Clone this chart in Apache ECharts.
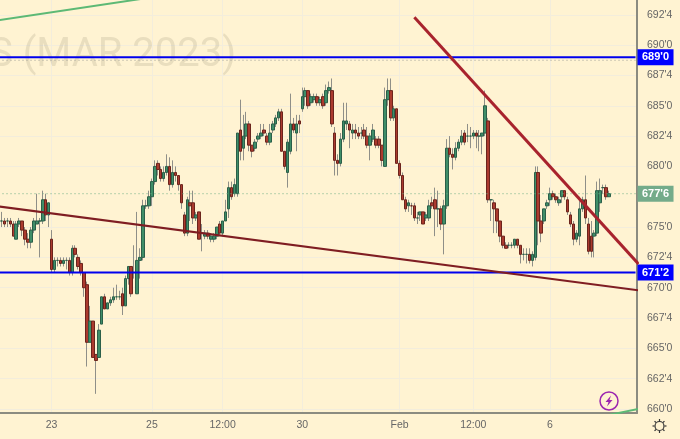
<!DOCTYPE html>
<html>
<head>
<meta charset="utf-8">
<style>html,body{margin:0;padding:0;background:#fff3d2}#c{width:680px;height:439px}</style>
<script src="https://cdn.jsdelivr.net/npm/echarts@6/dist/echarts.min.js"></script>
</head>
<body>
<div id="c"></div>
<script>
const opens = [675.5,675.5,675.5,675.5,675.25,674,675.25,675.5,674.75,674,
673.75,674.75,675.25,675.5,675.5,677.25,676,674,671.5,672.25,
672.25,672,672.25,672.25,671.25,673.25,672.5,672,671.25,670.25,
665.5,667.25,664.5,664.25,667,669.25,668.25,668.75,669,669.25,
669.25,669.5,668.5,670.75,671.75,671.25,669.5,672.25,672.5,676.75,
676.75,677.5,678.75,680.25,679.75,679,679.5,680,678.5,679.5,
679.25,678.5,676,674.5,677,677,675.75,676.25,674.5,674.25,
674.5,674,674,674.25,675.25,674.5,675.5,676.5,678.25,677.75,
677.75,683,681.5,682.5,683.5,681.75,681.5,682.25,682.5,683,
682.5,682,683,683.5,684,684.5,681.25,679.5,681.25,683.5,
682.75,683.75,684.75,685.75,686.25,685.25,685.5,685.75,685.25,685.75,
685.25,686.25,686.25,682.75,680.5,680.25,682.25,683.5,683.5,682.75,
683,682.75,682.75,683,682.5,681.75,682.25,682.25,682.25,681.75,
680,685.5,686.25,684,684.75,680.25,679.25,677.25,676.75,676.75,
676.75,675.75,676,676.25,675.75,675.75,677,677.25,676.5,676.5,
675.25,676.75,681.5,681,680.75,681.5,682,682.75,682.5,682.5,
682.5,682.75,682.5,682.5,682.75,683.75,677.25,677,676.5,675.5,
674.25,673.5,673.5,673.5,673.5,674,673.5,672.75,672.75,672.75,
672.25,672.5,679.5,675.5,675.5,676.75,677.25,677.75,677.5,677,
677.5,678,677.25,676,675.25,674,674.25,676.5,677.25,675.25,
674.25,674.25,674.5,677,678.25,678.25,677.5];
const highs = [676.25,675.75,675.75,675.75,675.5,675.5,675.75,675.5,675,674.5,
675,675.75,677.75,675.75,678,677.75,677,674.75,672.5,672.5,
672.5,672.5,672.5,672.5,673.5,673.5,672.75,672.25,671.25,670.5,
668.5,667.25,664.5,667,669.25,669.5,668.75,669.25,670,670.25,
669.75,670,671,671.75,671.75,673.5,676.25,673.25,677.25,677.25,
678,679,680.5,680.5,680,680,681,680.75,680.5,680,
679.25,678.5,676.25,677.5,678,678,676.25,676.25,675.25,674.75,
674.75,674.5,674.5,675,675.5,675.5,677.25,678.75,678.75,679,
682.75,685.5,684.25,684.5,683.75,681.75,682.25,682.75,683.5,683.5,
682.75,683.5,683.75,684.25,684.75,684.75,681.25,682.25,686,684,
684.25,684.25,686.5,686.5,686.25,686,686,686,685.75,686,
686.75,687,687.25,683.25,681,682.75,685.25,685.25,683.75,683.5,
683.5,683.25,683.25,683.5,683.25,682.75,683.5,682.5,682.5,681.75,
686.5,687.25,687.25,685,684.75,680.5,679.5,677.5,677.25,677,
677,676.25,676.25,676.25,676.25,677.25,677.5,678.25,678,676.75,
677.25,682.25,682.5,681.5,682,682.25,683,683,683.5,683.25,
683,683,683,682.75,686.25,684,677.25,677.25,676.5,675.5,
674.25,673.75,673.75,673.75,674,674,673.5,673.25,673.25,673.25,
673,680,680,676,676.5,677.25,678.25,678,677.75,677.5,
678,678,677.5,676.25,675.5,674.75,677.5,677.5,679.25,675.75,
675.5,674.75,678.75,679,678.5,678.5,678];
const lows = [675,675,675,675,674.25,674,675,674.25,673.5,673.25,
673.25,674.5,675.25,672.5,675.25,675.5,675,671.25,671.25,671.75,
671.75,671.75,671.5,671,671,672.5,671.5,671,669.25,663.5,
665.5,664.25,661.25,664.25,667,668.25,668.25,668.5,668.75,669,
669,667.75,668.5,670.25,669.25,670.75,669.5,670.75,672.25,676.5,
676.5,676.75,678.5,679.25,678.75,678.75,679.25,678,678.25,678.75,
678,676.5,674.25,674.25,675.5,675.25,675.5,674,673,674,
674,673.75,673.75,674,674.25,674.25,675.5,675.75,677.25,677.5,
677.5,680.5,680.5,682.25,681.25,680.75,681.25,682,682.25,682.5,
681.75,681.75,682.75,683.25,683.75,681.25,679.75,678.25,681,682.75,
681.25,682.75,684.5,685,684.75,685,685.25,685,685,684.75,
685,686,683.25,679.25,679.25,680,682,683,681.5,682.25,
682.25,682.25,682.25,682.25,681.5,680.5,682,681.5,681.5,680,
680,685,683.75,683.75,680.25,679,677.25,676.25,676.25,676,
675.5,675.25,675.5,675.25,675.5,675.5,676.5,674.25,675,674.75,
672.75,676.5,680.75,679.75,680.5,681.25,681.75,681.75,682,681.5,
682.25,681.5,681.25,681,682.5,677,675.5,674.5,674.5,673.75,
673.25,673.25,673.25,673.25,673.25,673.25,672,672.25,672,672,
671.75,672.25,673.5,673.75,675.25,676.5,676.75,677.25,677,676.75,
677,677.25,676,675,673.5,673.75,673.5,676.25,675.25,672.75,
672.5,672.5,674.25,676.25,677.75,677.25,677.5];
const closes = [675.5,675.25,675.5,675.25,674.25,675.25,675.5,674.75,674,673.75,
674.75,675.5,675.5,675.5,677.25,676,677,671.5,672.25,672.25,
672,672.25,672.25,671.25,673.25,672.75,671.75,671.25,670,665.5,
667.25,664.25,664,666.5,669.25,668.25,668.75,669,669.25,669.25,
669.25,668.5,670.75,671.75,669.5,671.25,672.25,672.5,676.75,676.75,
677.5,678.75,680,679.75,679,679.5,680,678.5,679.5,679.25,
678.5,677,674.5,677.25,676.75,675.75,676,674,674.5,674.5,
674.25,674.25,674.25,675,674.5,675.5,676.25,678.25,677.5,678.5,
682.75,681.25,682.5,683.5,681.75,681.25,682,682.5,682.75,682.75,
682,682.75,683.5,684,684.5,681.25,680,682,683.5,683,
683.5,683.5,685.75,686.25,685,685.75,685.75,685.25,685.5,685,
686.25,686.5,683.5,680.5,680.25,682.25,683.75,683.75,683,683,
682.75,682.5,682.75,682.5,681.75,682.5,683,681.75,681.75,680.5,
685.5,686.25,684,684.75,680.25,679.25,677.25,676.5,677,676.75,
675.75,675.75,676.25,675.25,676,676.75,676.75,676.5,676.5,675.25,
676.75,681.5,681,680.75,681.5,682,682.5,682,682.5,682.5,
682.75,682.5,682.5,682.75,685,677.25,677.25,676.5,675.5,674.25,
673.5,673.25,673.5,673.5,674,673.5,672.75,672.75,672.75,672.25,
672.75,679.5,675.5,674.5,676.5,677,677.75,677.5,677.25,677.25,
678,677.5,676.25,675.25,674,674.5,676.5,677.25,675.75,673,
673,674.5,678,678,678.25,677.5,677.75];

const barCount = 216;
const timeLabels = ['23','25','12:00','30','Feb','12:00','6'];
const timeBars = [17,51,75,102,135,160,186];
const priceTicks = [660,662.5,665,667.5,670,672.5,675,680,682.5,685,687.5,690,692.5];
const priceLabels = ["660'0","662'4","665'0","667'4","670'0","672'4","675'0","680'0","682'4","685'0","687'4","690'0","692'4"];
const lastPrice = 677.75, lastLabel = "677'6";
const upperLevel = 689, upperLabel = "689'0";
const lowerLevel = 671.25, lowerLabel = "671'2";
const bidLevel = 688.75;
const steepTrend = [[140,692.3],[216,671.96]];
const longTrend = [[-1,676.7],[216,669.78]];
const greenTop = [[-1,692.05],[60,694.27]];
const greenBottom = [[205,659.46],[216,660.01]];
const watermark = 'S (MAR 2023)';

const bg = '#fff3d2';
const categories = opens.map((_, i) => String(i));
while (categories.length < barCount) categories.push(String(categories.length));

const wickData = opens.map((o, i) => [o, closes[i], lows[i], highs[i]]);
const bodyData = opens.map((o, i) => [o, closes[i], Math.min(o, closes[i]), Math.max(o, closes[i])]);

function level(value, color, width, type, label, tagColor) {
  const s = {
    type: 'line', data: [[-1, value], [barCount, value]], showSymbol: false, symbol: 'none',
    lineStyle: { color, width, type }, silent: true, animation: false, z: 5
  };
  if (label) {
    s.data = [[-1, value], [barCount - 1, value]];
    s.endLabel = {
      show: true, formatter: label, distance: 2, offset: [18, 0], backgroundColor: tagColor, color: '#fff',
      fontFamily: 'Liberation Sans', fontSize: 11, fontWeight: 'bold',
      width: 36, height: 16, lineHeight: 16, align: 'center', padding: 0
    };
  }
  return s;
}
function trend(data, color, width) {
  return { type: 'line', data, showSymbol: false, symbol: 'none', lineStyle: { color, width }, silent: true, animation: false, z: 6 };
}
const rays = [];
for (let a = 0; a < 8; a++) {
  const t = a * Math.PI / 4;
  rays.push({ type: 'line', silent: true, shape: { x1: 659.5 + 5 * Math.cos(t), y1: 426 + 5 * Math.sin(t), x2: 659.5 + 7 * Math.cos(t), y2: 426 + 7 * Math.sin(t) }, style: { stroke: '#333', lineWidth: 1.2 } });
}

const chart = echarts.init(document.getElementById('c'), null, { renderer: 'canvas' });
chart.setOption({
  animation: false,
  backgroundColor: bg,
  grid: { left: 0, top: 0, width: 637, height: 413, containLabel: false },
  xAxis: {
    type: 'category', data: categories, boundaryGap: true,
    axisLine: { show: true, onZero: false, lineStyle: { color: '#8b8b80', width: 2 } },
    axisTick: { show: false },
    axisLabel: {
      interval: (i) => timeBars.includes(i),
      formatter: (v) => timeLabels[timeBars.indexOf(Number(v))] || '',
      color: '#666', fontFamily: 'Liberation Sans', fontSize: 10.5, margin: 7, hideOverlap: false
    },
    splitLine: { show: true, alignWithLabel: true, interval: (i) => timeBars.includes(i), lineStyle: { color: '#f3eddc', width: 1 } }
  },
  yAxis: {
    type: 'value', position: 'right', min: 659.67, max: 693.72, scale: true,
    axisLine: { show: true, lineStyle: { color: '#8b8b80', width: 2 } },
    axisTick: { show: false, customValues: priceTicks },
    axisLabel: {
      customValues: priceTicks, color: '#666', fontFamily: 'Liberation Sans', fontSize: 10.5, margin: 10,
      formatter: (v) => priceLabels[priceTicks.indexOf(v)] || ''
    },
    splitLine: { show: true, lineStyle: { color: '#f3eddc', width: 1 } }
  },
  graphic: [
    { type: 'text', z: 1, silent: true, style: { x: -11, y: 56, text: watermark, font: '40px Roboto', fill: 'rgba(120,110,90,0.16)', verticalAlign: 'middle' } },
    { type: 'circle', z: 20, silent: true, shape: { cx: 609, cy: 401, r: 9 }, style: { fill: bg, stroke: '#9c27b0', lineWidth: 1.5 } },
    { type: 'polygon', z: 21, silent: true, shape: { points: [[611, 395.5], [605.5, 402], [608.5, 402], [607, 406.5], [612.5, 400], [609.5, 400]] }, style: { fill: '#9c27b0' } },
    { type: 'circle', z: 20, silent: true, shape: { cx: 659.5, cy: 426, r: 4.5 }, style: { fill: 'none', stroke: '#333', lineWidth: 1.2 } },
    ...rays
  ],
  series: [
    level(lastPrice, '#6fae85', 1, [1, 3], null),
    level(bidLevel, '#a0a098', 1, [1, 3], null),
    {
      type: 'candlestick', data: wickData, barWidth: 1, silent: true, z: 3,
      itemStyle: { color: '#8f8f88', color0: '#8f8f88', borderColor: '#8f8f88', borderColor0: '#8f8f88', borderWidth: 1 }
    },
    {
      type: 'candlestick', data: bodyData, barWidth: 3, silent: true, z: 4,
      itemStyle: { color: '#3f8e68', color0: '#ab3a2e', borderColor: '#2b5f49', borderColor0: '#6b241c', borderWidth: 1 }
    },
    level(upperLevel, '#0000ee', 2, 'solid', upperLabel, '#0000ff'),
    level(lowerLevel, '#0000ee', 2, 'solid', lowerLabel, '#0000ff'),
    level(lastPrice, 'rgba(0,0,0,0)', 1, 'solid', lastLabel, '#74ab8a'),
    trend(longTrend, '#7f1d22', 2),
    trend(steepTrend, '#a8232d', 3),
    trend(greenTop, '#5db975', 2),
    trend(greenBottom, '#5db975', 2)
  ]
});
</script>
</body>
</html>
